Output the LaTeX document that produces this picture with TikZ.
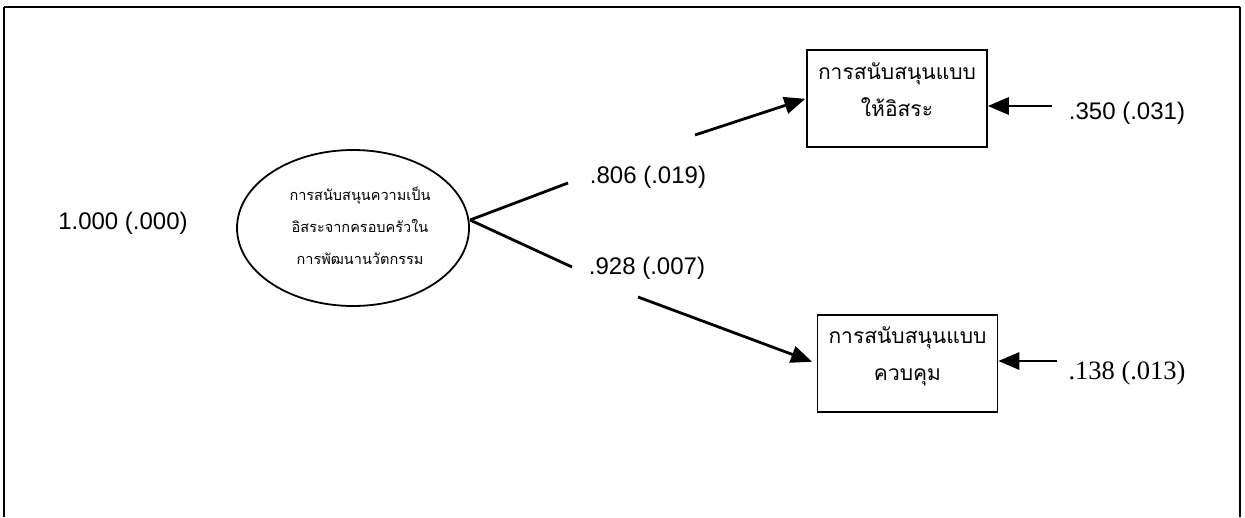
\documentclass[tikz,border=0pt]{standalone}
\usepackage{fontspec}
\setmainfont{Liberation Sans}
\newfontfamily\thaifont[Script=Thai]{Loma}
\newfontfamily\tnrfont{Liberation Serif}
\usetikzlibrary{arrows.meta,shapes.geometric}
\begin{document}
\begin{tikzpicture}[x=1pt,y=-1pt,
  conn/.style={line width=2.8pt},
  arr/.style={line width=2.8pt,-{Triangle[length=21pt,width=17pt]}},
  obsbox/.style={draw,line width=1.5pt,minimum width=180pt,minimum height=97pt,inner sep=0pt},
  latent/.style={draw,ellipse,line width=1.8pt,minimum width=232pt,minimum height=156pt,inner sep=0pt},
  coef/.style={font=\fontsize{24}{28}\selectfont,inner sep=0pt},
  boxtext/.style={font=\thaifont\fontsize{21}{37}\selectfont,align=center,inner sep=0pt},
  elltext/.style={font=\thaifont\fontsize{14.5}{32}\selectfont,align=center,inner sep=0pt}
]
\useasboundingbox (0,0) rectangle (1245,517);
% frame
\coordinate (fl) at (4,517);
\coordinate (ftl) at (4,7);
\coordinate (ftr) at (1240,7);
\coordinate (fr) at (1240,517);
\draw[line width=1.5pt] (fl) -- (ftl);
\draw[line width=2.6pt] (ftl) -- (ftr);
\draw[line width=1.5pt] (ftr) -- (fr);

% nodes
\node[latent] (l) at (353,228) {};
\node[elltext] (lt) at (360,226) {การสนับสนุนความเป็น\\อิสระจากครอบครัวใน\\การพัฒนานวัตกรรม};
\node[obsbox] (b1) at (897,98.5) {};
\node[boxtext] (b1t) at (897,90) {การสนับสนุนแบบ\\ให้อิสระ};
\node[obsbox] (b2) at (907.5,363.5) {};
\node[boxtext] (b2t) at (907.5,356) {การสนับสนุนแบบ\\ควบคุม};

% labels
\node[coef] (c0) at (123,223) {1.000 (.000)};
\node[coef] (c1) at (648,177) {.806 (.019)};
\node[coef] (c2) at (647,268) {.928 (.007)};
\node[coef] (c3) at (1127,113) {.350 (.031)};
\node[coef,font=\tnrfont\fontsize{26.5}{30}\selectfont] (c4) at (1127,373) {.138 (.013)};

% connectors
\coordinate (o) at (470,220);
\coordinate (u1) at (568,183);
\coordinate (u2) at (695,135);
\coordinate (d1) at (572,267);
\coordinate (d2) at (638,297);
\coordinate (e1) at (1052,106);
\coordinate (e2) at (1057,361);
\draw[conn] (o) -- (u1);
\draw[conn] (o) -- (d1);
\draw[arr,shorten >=1pt] (u2) -- (b1.west);
\draw[arr,shorten >=5pt] (d2) -- (b2.west);
\draw[arr] (e1) -- (e1 -| b1.east);
\draw[arr] (e2) -- (e2 -| b2.east);
\end{tikzpicture}
\end{document}
